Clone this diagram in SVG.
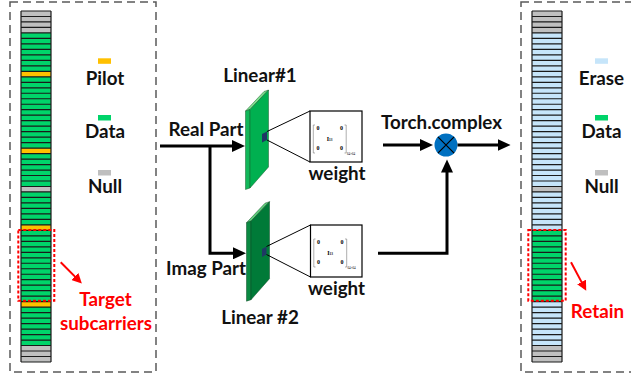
<svg xmlns="http://www.w3.org/2000/svg" width="631" height="380" viewBox="0 0 631 380">
<defs>
<style>
.box{fill:none;stroke:#595959;stroke-width:1.5;stroke-dasharray:8 5}
.lbl{font-family:Lato,"Liberation Sans",sans-serif;font-weight:bold;font-size:18.8px;fill:#111;text-anchor:middle}
.red{fill:#ff0000}
.sep{fill:none;stroke:#1a1a1a;stroke-width:1.2}
.g{fill:#00d46a}.p{fill:#ffc000}.n{fill:#bfbfbf}.e{fill:#c6e5fa}
.sel{fill:none;stroke:#ff0000;stroke-width:2;stroke-dasharray:3 2}
.con{fill:none;stroke:#000;stroke-width:3}
.rarr{fill:none;stroke:#ff0000;stroke-width:2}
.thin{stroke:#000;stroke-width:1}
.wbox{fill:#fff;stroke:#000;stroke-width:1.2}
.brk{fill:none;stroke:#777;stroke-width:0.6}
.mt{font-family:"Liberation Serif",serif;font-weight:bold;font-size:6px;fill:#000;text-anchor:middle}
.ms{font-family:"Liberation Serif",serif;font-size:3.2px;fill:#000}
</style>
<marker id="ah" markerUnits="userSpaceOnUse" markerWidth="14" markerHeight="12" refX="1" refY="6" orient="auto"><path d="M0,0 L13,6 L0,12 z" fill="#000"/></marker>
<marker id="rah" markerUnits="userSpaceOnUse" markerWidth="11" markerHeight="10" refX="1" refY="5" orient="auto"><path d="M0,0 L10,5 L0,10 z" fill="#ff0000"/></marker>
<path id="seps" d="M0 11h30M0 16.48h30M0 21.97h30M0 27.45h30M0 32.94h30M0 38.42h30M0 43.9h30M0 49.39h30M0 54.87h30M0 60.36h30M0 65.84h30M0 71.32h30M0 76.81h30M0 82.29h30M0 87.78h30M0 93.26h30M0 98.74h30M0 104.23h30M0 109.71h30M0 115.2h30M0 120.68h30M0 126.16h30M0 131.65h30M0 137.13h30M0 142.62h30M0 148.1h30M0 153.58h30M0 159.07h30M0 164.55h30M0 170.04h30M0 175.52h30M0 181h30M0 186.49h30M0 191.97h30M0 197.46h30M0 202.94h30M0 208.42h30M0 213.91h30M0 219.39h30M0 224.88h30M0 230.36h30M0 235.84h30M0 241.33h30M0 246.81h30M0 252.3h30M0 257.78h30M0 263.26h30M0 268.75h30M0 274.23h30M0 279.72h30M0 285.2h30M0 290.68h30M0 296.17h30M0 301.65h30M0 307.14h30M0 312.62h30M0 318.1h30M0 323.59h30M0 329.07h30M0 334.56h30M0 340.04h30M0 345.52h30M0 351.01h30M0 356.49h30M0 361.98h30M0 11V361.98M30 11V361.98"/>
</defs>

<g id="input-frame">
<rect class="box" x="10" y="2" width="146" height="370"/>
<g transform="translate(21,0)">
<rect class="g" x="0" y="11" width="30" height="351"/>
<rect class="n" x="0" y="11" width="30" height="21.94"/>
<rect class="n" x="0" y="186.49" width="30" height="5.48"/>
<rect class="n" x="0" y="345.52" width="30" height="16.46"/>
<rect class="p" x="0" y="71.32" width="30" height="5.49"/>
<rect class="p" x="0" y="148.1" width="30" height="5.48"/>
<rect class="p" x="0" y="224.88" width="30" height="5.48"/>
<rect class="p" x="0" y="301.65" width="30" height="5.49"/>
<use href="#seps" class="sep"/>
</g>
<rect class="sel" x="18.3" y="230" width="36" height="70.7"/>
<path class="rarr" d="M60.7 262.3L75.5 277.1" marker-end="url(#rah)"/>
<text class="lbl red" x="105.5" y="305.5">Target</text>
<text class="lbl red" x="106" y="330">subcarriers</text>
</g>

<g id="legend-left">
<rect class="p" x="98" y="58.3" width="13" height="5.5"/>
<text class="lbl" x="105" y="85">Pilot</text>
<rect class="g" x="98" y="115" width="13" height="5.5"/>
<text class="lbl" x="105" y="138">Data</text>
<rect class="n" x="98" y="170" width="13" height="5.5"/>
<text class="lbl" x="105" y="192.5">Null</text>
</g>

<g id="linear1">
<polygon points="245.5,111 264,91.5 268.5,90 250,109.5" fill="#7ee08f" stroke="#1a5c2e" stroke-width="0.5"/>
<polygon points="245.5,111 250,109.5 250,188 245.5,189.5" fill="#12b85a" stroke="#1a5c2e" stroke-width="0.5"/>
<polygon points="250,109.5 268.5,90 268.5,167 250,188" fill="#00b050" stroke="#1a5c2e" stroke-width="0.5"/>
<polygon points="262,134 267,131.5 267,140 262,142.5" fill="#1f3864"/>
<text class="lbl" x="260" y="81.5">Linear#1</text>
</g>

<g id="weight1">
<line class="thin" x1="267" y1="131.5" x2="310" y2="111"/>
<line class="thin" x1="267" y1="140" x2="310" y2="162"/>
<rect class="wbox" x="310" y="111" width="52" height="51"/>
<g id="matrix1">
<path class="brk" d="M315 125h-1.7v28h1.7M344.5 125h1.7v28h-1.7"/>
<text class="mt" x="318" y="130">0</text>
<text class="mt" x="341.5" y="130">0</text>
<text class="mt" x="329.5" y="140.5">I<tspan font-size="3.4px" dy="0.8">13</tspan></text>
<text class="mt" x="318" y="150">0</text>
<text class="mt" x="341.5" y="150">0</text>
<text class="ms" x="347" y="155">64×64</text>
</g>
<text class="lbl" x="337" y="179.5">weight</text>
</g>

<g id="linear2">
<polygon points="246.5,222.7 265,203.2 269.5,201.7 251,221.2" fill="#5fcf7c" stroke="#0f4a24" stroke-width="0.5"/>
<polygon points="246.5,222.7 251,221.2 251,299.7 246.5,301.2" fill="#0a8a42" stroke="#0f4a24" stroke-width="0.5"/>
<polygon points="251,221.2 269.5,201.7 269.5,278.7 251,299.7" fill="#007a38" stroke="#0f4a24" stroke-width="0.5"/>
<polygon points="262,249 266.5,246.5 266.5,254.5 262,257" fill="#1f3864"/>
<text class="lbl" x="260" y="324">Linear #2</text>
</g>

<g id="weight2">
<line class="thin" x1="266.5" y1="246.5" x2="310.5" y2="225"/>
<line class="thin" x1="266.5" y1="254.5" x2="310.5" y2="277"/>
<rect class="wbox" x="310.5" y="225" width="51.5" height="52"/>
<g id="matrix2" transform="translate(0.5,114)">
<path class="brk" d="M315 125h-1.7v28h1.7M344.5 125h1.7v28h-1.7"/>
<text class="mt" x="318" y="130">0</text>
<text class="mt" x="341.5" y="130">0</text>
<text class="mt" x="329.5" y="140.5">I<tspan font-size="3.4px" dy="0.8">13</tspan></text>
<text class="mt" x="318" y="150">0</text>
<text class="mt" x="341.5" y="150">0</text>
<text class="ms" x="347" y="155">64×64</text>
</g>
<text class="lbl" x="336.5" y="295">weight</text>
</g>

<g id="torch-complex">
<circle cx="446" cy="145" r="11.5" fill="#0070c0"/>
<path d="M437.9 136.9L454.1 153.1M454.1 136.9L437.9 153.1" stroke="#000" stroke-width="1.2"/>
<text class="lbl" x="441.5" y="128.5">Torch.complex</text>
</g>

<g id="labels">
<text class="lbl" x="206" y="136">Real Part</text>
<text class="lbl" x="206" y="274.5">Imag Part</text>
</g>

<g id="connectors">
<path class="con" d="M160 146H233" marker-end="url(#ah)"/>
<path class="con" d="M210 146V253.3H234" marker-end="url(#ah)"/>
<path class="con" d="M383 145H421" marker-end="url(#ah)"/>
<path class="con" d="M457.5 145H498.5" marker-end="url(#ah)"/>
<path class="con" d="M378 253.3H447V171.5" marker-end="url(#ah)"/>
</g>

<g id="output-frame">
<rect class="box" x="521" y="2" width="120" height="370"/>
<g transform="translate(532,0)">
<rect class="e" x="0" y="11" width="30" height="351"/>
<rect class="n" x="0" y="11" width="30" height="21.94"/>
<rect class="n" x="0" y="186.49" width="30" height="5.48"/>
<rect class="n" x="0" y="345.52" width="30" height="16.46"/>
<rect class="g" x="0" y="230.36" width="30" height="71.29"/>
<use href="#seps" class="sep"/>
</g>
<rect class="sel" x="528.3" y="230" width="37.4" height="70.7"/>
<path class="rarr" d="M571 262.3L582 282.9" marker-end="url(#rah)"/>
<text class="lbl red" x="597.5" y="317.5">Retain</text>
</g>

<g id="legend-right">
<rect class="e" x="595" y="58.3" width="13" height="5.5"/>
<text class="lbl" x="601.5" y="85">Erase</text>
<rect class="g" x="595" y="115" width="13" height="5.5"/>
<text class="lbl" x="601.5" y="138">Data</text>
<rect class="n" x="595" y="170" width="13" height="5.5"/>
<text class="lbl" x="601.5" y="192.5">Null</text>
</g>
</svg>
